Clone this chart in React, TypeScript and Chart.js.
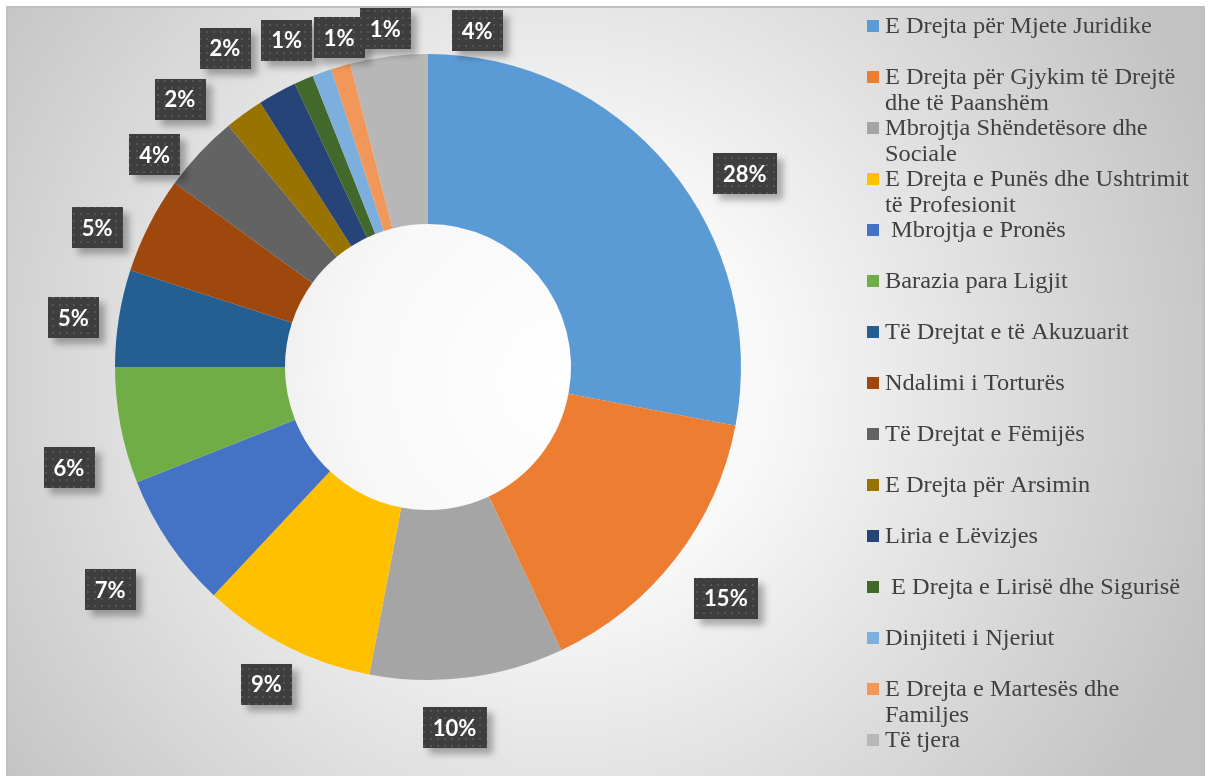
import React, { useEffect, useRef } from 'react';
import { Chart, registerables } from 'chart.js';
Chart.register(...registerables);

const categories = [
  'E Drejta për Mjete Juridike',
  'E Drejta për Gjykim të Drejtë dhe të Paanshëm',
  'Mbrojtja Shëndetësore dhe Sociale',
  'E Drejta e Punës dhe Ushtrimit të Profesionit',
  ' Mbrojtja e Pronës',
  'Barazia para Ligjit',
  'Të Drejtat e të Akuzuarit',
  'Ndalimi i Torturës',
  'Të Drejtat e Fëmijës',
  'E Drejta për Arsimin',
  'Liria e Lëvizjes',
  ' E Drejta e Lirisë dhe Sigurisë',
  'Dinjiteti i Njeriut',
  'E Drejta e Martesës dhe Familjes',
  'Të tjera',
];
const values = [28, 15, 10, 9, 7, 6, 5, 5, 4, 2, 2, 1, 1, 1, 4];
const colors = [
  '#5B9BD5', '#ED7D31', '#A5A5A5', '#FFC000', '#4472C4', '#70AD47', '#255E91',
  '#9E480E', '#636363', '#997300', '#264478', '#43682B', '#7CAFDD', '#F1975A', '#B7B7B7',
];

// layout nudges for the data labels (degrees of rotation, px beyond outer radius)
const labelAngleShift = [8.2, 0, 3, 0, -0.8, -4.9, -1.1, -4.2, -5.4, -6.8, -3.7, 0, 4.7, 9.0, 15.5];
const labelExtra = [58, 64, 48.5, 43, 75, 60, 45, 46, 33, 52, 65, 43, 28, 28, 27];

function makePattern(ctx: CanvasRenderingContext2D) {
  const c = document.createElement('canvas');
  c.width = 7;
  c.height = 7;
  const p = c.getContext('2d')!;
  p.fillStyle = '#3e3e3e';
  p.fillRect(0, 0, 7, 7);
  p.fillStyle = '#555555';
  p.fillRect(3, 3, 2, 2);
  return ctx.createPattern(c, 'repeat');
}

const backgroundPlugin = {
  id: 'bgFrame',
  beforeDraw(chart: any) {
    const ctx: CanvasRenderingContext2D = chart.ctx;
    ctx.save();
    ctx.fillStyle = '#ffffff';
    ctx.fillRect(0, 0, chart.width, chart.height);
    const g = ctx.createRadialGradient(560, 380, 0, 560, 380, 700);
    g.addColorStop(0, '#ffffff');
    g.addColorStop(0.3, '#f8f8f8');
    g.addColorStop(1, '#c2c2c2');
    ctx.fillStyle = g;
    ctx.fillRect(7, 7, 1197, 769);
    ctx.strokeStyle = '#bfbfbf';
    ctx.lineWidth = 2;
    ctx.strokeRect(7, 7, 1197, 772);
    ctx.restore();
  },
};

const labelPlugin = {
  id: 'boxLabels',
  afterDatasetsDraw(chart: any) {
    const ctx: CanvasRenderingContext2D = chart.ctx;
    const meta = chart.getDatasetMeta(0);
    const data: number[] = chart.data.datasets[0].data;
    const total = data.reduce((a, b) => a + b, 0);
    const pattern = makePattern(ctx);
    meta.data.forEach((arc: any, i: number) => {
      const { x, y, startAngle, endAngle, outerRadius } = arc.getProps(
        ['x', 'y', 'startAngle', 'endAngle', 'outerRadius'],
        true
      );
      const theta = (startAngle + endAngle) / 2 + Math.PI / 2 + (labelAngleShift[i] * Math.PI) / 180;
      const d = outerRadius + labelExtra[i];
      const lx = x + d * Math.sin(theta);
      const ly = y - d * Math.cos(theta);
      const txt = Math.round((data[i] / total) * 100) + '%';
      ctx.save();
      ctx.font = 'bold 22px Lato';
      const tw = ctx.measureText(txt).width;
      const w = tw + 20;
      const h = 41;
      ctx.shadowColor = 'rgba(0,0,0,0.3)';
      ctx.shadowBlur = 7;
      ctx.shadowOffsetX = 6;
      ctx.shadowOffsetY = 6;
      ctx.fillStyle = pattern || '#3e3e3e';
      ctx.fillRect(Math.round(lx - w / 2), Math.round(ly - h / 2), Math.round(w), h);
      ctx.restore();
      ctx.save();
      ctx.font = 'bold 22px Lato';
      ctx.fillStyle = '#ffffff';
      ctx.textAlign = 'center';
      ctx.textBaseline = 'middle';
      ctx.fillText(txt, lx, ly + 1);
      ctx.restore();
    });
  },
};

function wrapText(ctx: CanvasRenderingContext2D, text: string, maxW: number): string[] {
  const lead = (text.match(/^\s*/) || [''])[0];
  const words = text.trim().split(' ');
  const lines: string[] = [];
  let line = lead;
  let first = true;
  for (const w of words) {
    const test = first ? line + w : line + ' ' + w;
    if (!first && ctx.measureText(test).width > maxW) {
      lines.push(line);
      line = w;
    } else {
      line = test;
    }
    first = false;
  }
  lines.push(line);
  return lines;
}

const legendPlugin = {
  id: 'sideLegend',
  afterDraw(chart: any) {
    const ctx: CanvasRenderingContext2D = chart.ctx;
    const labels: string[] = chart.data.labels;
    const bg: string[] = chart.data.datasets[0].backgroundColor;
    const sx = 1.06;
    ctx.save();
    ctx.font = '23px "Liberation Serif"';
    labels.forEach((lab, i) => {
      const yc = 26 + 51 * i;
      ctx.fillStyle = bg[i];
      ctx.fillRect(867, yc - 6, 12, 12);
      const lines = wrapText(ctx, lab, 312 / sx);
      ctx.fillStyle = '#404040';
      ctx.textBaseline = 'alphabetic';
      lines.forEach((ln, j) => {
        ctx.save();
        ctx.translate(885, yc + 7 + 26 * j);
        ctx.scale(sx, 1);
        ctx.fillText(ln, 0, 0);
        ctx.restore();
      });
    });
    ctx.restore();
  },
};

export default function App() {
  const ref = useRef<HTMLCanvasElement | null>(null);
  useEffect(() => {
    if (!ref.current) return;
    const chart = new Chart(ref.current, {
      type: 'doughnut',
      data: {
        labels: categories,
        datasets: [
          {
            data: values,
            backgroundColor: colors,
            borderWidth: 0,
            hoverOffset: 0,
          },
        ],
      },
      options: {
        animation: false,
        responsive: false,
        devicePixelRatio: 1,
        cutout: '45.7%',
        layout: { padding: { left: 115, right: 469, top: 54, bottom: 96 } },
        plugins: {
          legend: { display: false },
          tooltip: { enabled: false },
          title: { display: false },
        },
        events: [],
      },
      plugins: [backgroundPlugin, labelPlugin, legendPlugin],
    });
    return () => chart.destroy();
  }, []);
  return (
    <div style={{ position: 'absolute', left: 0, top: 0, width: 1210, height: 776 }}>
      <canvas ref={ref} width={1210} height={776} style={{ display: 'block' }} />
    </div>
  );
}
